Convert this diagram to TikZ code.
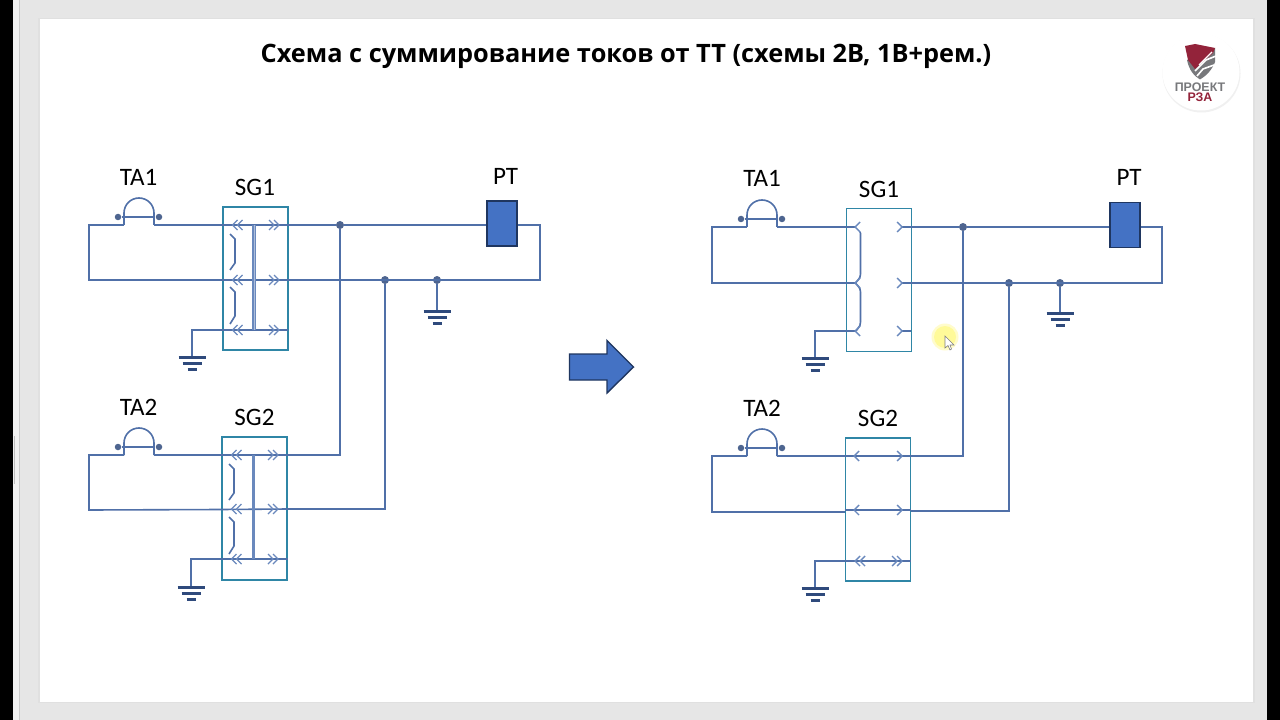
\documentclass[tikz,border=0pt]{standalone}
\usepackage{fontspec}
\setmainfont{Carlito}
\newfontfamily\titlefont{Open Sans}
\newfontfamily\logofont{Liberation Sans}
\newdimen\px \px=0.75pt
\definecolor{wire}{HTML}{5070A8}
\definecolor{chev}{HTML}{6A89BD}
\definecolor{navy}{HTML}{2F4A7C}
\definecolor{teal}{HTML}{2F86A6}
\definecolor{fillb}{HTML}{4472C4}
\definecolor{edgeb}{HTML}{1F3660}
\definecolor{pagegray}{HTML}{E6E6E6}
\definecolor{logored}{HTML}{93233A}
\definecolor{logogray}{HTML}{77787B}
\tikzset{
  wireline/.style={draw=wire,line width=1.6\px,line join=miter},
  chevline/.style={draw=chev,line width=1.4\px},
  barline/.style={draw=navy,line width=3\px},
  sgbox/.style={draw=teal,line width=1.7\px,minimum width=65\px,minimum height=143\px,inner sep=0pt},
  dotnode/.style={circle,fill=navy!85!white,inner sep=0pt,minimum size=8\px},
  smalldot/.style={circle,fill=navy!85!white,inner sep=0pt,minimum size=6.5\px},
  relay/.style={draw=edgeb,fill=fillb,line width=1.4\px,minimum width=30\px,minimum height=45\px,inner sep=0pt},
  lbl/.style={font=\fontsize{18.8}{22}\selectfont,text=black,inner sep=0pt,anchor=center},
}
% ground symbol at a named coordinate
\newcommand\gndsym[1]{\begin{scope}[shift={(#1)}]
  \draw[barline] (-13.5,0) -- (13.5,0);
  \draw[barline] (-9.5,6.5) -- (9.5,6.5);
  \draw[barline] (-4.5,12.5) -- (4.5,12.5);
\end{scope}}
% single and double chevrons
\newcommand\chevS[3]{\draw[chevline] ({#1+#3*5},#2-5) -- (#1,#2) -- ({#1+#3*5},#2+5);}
\newcommand\chevD[3]{\chevS{#1}{#2}{#3}\chevS{#1+#3*5}{#2}{#3}}
% current transformer: name prefix #1, left x #2, wire y #3
\newcommand\ctsym[3]{
  \coordinate (#1a) at (#2,#3);
  \coordinate (#1b) at (#2+30,#3);
  \node[smalldot] (#1l) at (#2-6,#3-8) {};
  \node[smalldot] (#1r) at (#2+35,#3-8) {};
  \draw[wireline] (#1l) -- (#1r);
  \draw[wireline] (#1a) -- (#2,#3-12) arc[start angle=180,end angle=360,radius=15] -- (#1b);
}
\begin{document}
\begin{tikzpicture}[x=0.75pt,y=-0.75pt]
\useasboundingbox (0,0) rectangle (1280,720);
% window
\fill[pagegray] (0,0) rectangle (1280,720);
\fill[black] (0,0) rectangle (13,720);
\fill[black] (1267,0) rectangle (1280,720);
\fill[white!95!black] (13,0) rectangle (19,720);
\fill[black!20] (19,0) rectangle (20,720);
\draw[black!25,line width=1\px] (14.5,436) -- (14.5,484);
\fill[black!12] (38,18) rectangle (1254.5,703);
\fill[white] (39.5,19.5) rectangle (1253,702);
% title
\node[font=\titlefont\bfseries\fontsize{19}{22}\selectfont,inner sep=0pt] (title) at (626,56) {Схема с суммирование токов от ТТ (схемы 2В, 1В+рем.)};
% logo
\fill[black!6] (1201.5,73.5) circle[radius=39];
\fill[white] (1201,72) circle[radius=38.5];
\fill[logogray] (1215,48) -- (1215,62) .. controls (1212,70) and (1206,76) .. (1200,79.5) .. controls (1194,76) and (1189,70) .. (1187,60) -- cycle;
\fill[logored] (1185,46) -- (1195,44) -- (1215,48) -- (1213,53) -- (1195,69) -- (1188,60) -- cycle;
\draw[white,line width=1.6\px] (1195,71) -- (1206,60) -- (1216,56);
\draw[white,line width=1.6\px] (1197,76) -- (1203,69) -- (1214,65);
\draw[white,line width=1.2\px] (1199,65) -- (1212,52);
\node[font=\logofont\bfseries\fontsize{9.3}{10}\selectfont,text=logogray,inner sep=0pt] (logoa) at (1200,87) {ПРОЕКТ};
\node[font=\logofont\bfseries\fontsize{9.3}{10}\selectfont,text=logored,inner sep=0pt] (logob) at (1200,97) {РЗА};
%==== LEFT CIRCUIT ====
\node[sgbox] (sgA) at (255.5,278.5) {};
\node[sgbox] (sgB) at (254.5,508.5) {};
\node[relay] (ptA) at (502,223.5) {};
\node[lbl] (ta1L) at (138.5,177) {TA1};
\node[lbl] (sg1L) at (255,187) {SG1};
\node[lbl] (ta2L) at (138.5,407) {TA2};
\node[lbl] (sg2L) at (254.5,417) {SG2};
\node[lbl] (ptL) at (505.5,176) {РТ};
\ctsym{ctA}{124}{225}
\ctsym{ctB}{124}{455}
\node[dotnode] (jA) at (340,225) {};
\node[dotnode] (jB) at (385,280) {};
\node[dotnode] (jC) at (437,280) {};
\coordinate (gA) at (192,357);
\coordinate (gB) at (191,587);
\coordinate (gC) at (437,311);
\coordinate (bendA) at (89,225);
\coordinate (bendB) at (89,280);
\coordinate (bendC) at (89,455);
\coordinate (bendD) at (89,510);
\coordinate (rA) at (540,225);
\coordinate (rB) at (540,280);
\draw[wireline] (ctAb) -- (288,225) -- (jA);
\draw[wireline] (ctAa) -- (bendA) -- (bendB) -- (rB) -- (rA) -- (ptA.east |- rA);
\draw[wireline] (jA) -- (ptA.west |- jA);
\draw[wireline] (gA) |- (288,330);
\draw[wireline] (jA) |- (sgB.east |- 0,455);
\draw[wireline] (jB) |- (sgB.east |- 0,509);
\draw[wireline] (jC) -- (gC);
\draw[wireline] (ctBb) -- (sgB.east |- 0,455);
\draw[wireline] (ctBa) -- (bendC) -- (bendD) -- (sgB.west |- 0,509.5) -- (sgB.east |- 0,509);
\draw[wireline] (gB) |- (sgB.east |- 0,559);
\gndsym{gA}\gndsym{gB}\gndsym{gC}
\foreach \ys/\xo in {225/0,280/0,330/0,455/-1,509/-1,559/-1}{
  \chevD{232.5+\xo}{\ys}{1}\chevD{279+\xo}{\ys}{-1}
}
\draw[draw=chev,line width=3.6\px] (254,225) -- (254,330);
\draw[draw=chev!55!white,line width=0.8\px] (254,225) -- (254,330);
\draw[draw=chev,line width=3.6\px] (253.5,455) -- (253.5,559);
\foreach \dx/\dy in {0/0,-1/230}{
  \draw[wireline] (230+\dx,234+\dy) -- (235+\dx,239+\dy) -- (235+\dx,263+\dy) -- (230+\dx,270+\dy);
  \draw[wireline] (230+\dx,287+\dy) -- (235+\dx,292+\dy) -- (235+\dx,316+\dy) -- (230+\dx,324+\dy);
}
%==== RIGHT CIRCUIT ====
\node[sgbox] (sgC) at (879,280) {};
\node[sgbox] (sgD) at (878,509.5) {};
\node[relay] (ptB) at (1125,225) {};
\node[lbl] (ta1R) at (762,178) {TA1};
\node[lbl] (sg1R) at (879,189) {SG1};
\node[lbl] (ta2R) at (762,408) {TA2};
\node[lbl] (sg2R) at (878,418) {SG2};
\node[lbl] (ptR) at (1129,177) {РТ};
\ctsym{ctC}{747}{227}
\ctsym{ctD}{747}{456}
\node[dotnode] (jD) at (963,227) {};
\node[dotnode] (jE) at (1009,283) {};
\node[dotnode] (jF) at (1060,283) {};
\coordinate (gD) at (815,358);
\coordinate (gE) at (815,588);
\coordinate (gF) at (1060,313);
\coordinate (bendE) at (712,227);
\coordinate (bendF) at (712,283);
\coordinate (bendG) at (712,456);
\coordinate (bendH) at (712,512);
\coordinate (rC) at (1162,227);
\coordinate (rD) at (1162,283);
\draw[wireline] (ctCb) -- (855,227);
\draw[wireline] (902,227) -- (jD) -- (ptB.west |- jD);
\draw[wireline] (ctCa) -- (bendE) -- (bendF) -- (855,283);
\draw[wireline] (902,283) -- (rD) -- (rC) -- (ptB.east |- rC);
\draw[wireline] (gD) |- (855,331);
\draw[wireline] (902,331) -- (911,331);
\draw[wireline] (860,232) .. controls (860.5,233) .. (860.5,236) -- (860.5,274) .. controls (860.5,277) .. (855.5,283) .. controls (860.5,289) .. (860.5,292) -- (860.5,322) .. controls (860.5,325) .. (856,331);
\draw[wireline] (jD) |- (sgD.east |- 0,456);
\draw[wireline] (jE) |- (sgD.east |- 0,511);
\draw[wireline] (jF) -- (gF);
\draw[wireline] (ctDb) -- (sgD.east |- 0,456);
\draw[wireline] (ctDa) -- (bendG) -- (bendH) -- (sgD.west |- 0,512);
\draw[wireline] (sgD.west |- 0,510) -- (sgD.east |- 0,510);
\draw[wireline] (gE) |- (sgD.east |- 0,561);
\gndsym{gD}\gndsym{gE}\gndsym{gF}
\foreach \ys in {227,283,331}{\chevS{855}{\ys}{1}\chevS{902}{\ys}{-1}}
\foreach \ys in {456,510}{\chevS{854}{\ys}{1}\chevS{902}{\ys}{-1}}
\chevD{855}{561}{1}\chevD{902}{561}{-1}
%==== big arrow ====
\draw[draw=edgeb,fill=fillb,line width=1.4\px,line join=miter] (569.5,354) -- (607,354) -- (607,340.5) -- (633.5,367) -- (607,393) -- (607,380) -- (569.5,380) -- cycle;
%==== cursor ====
\fill[yellow!20] (945,337) circle[radius=13.5];
\fill[yellow!40] (945,337) circle[radius=11];
\draw[black!50,fill=white,line width=0.6\px] (945,336) -- (945,348) -- (948,345.5) -- (950,350) -- (951.5,349) -- (950,345) -- (954,345) -- cycle;
\end{tikzpicture}
\end{document}
